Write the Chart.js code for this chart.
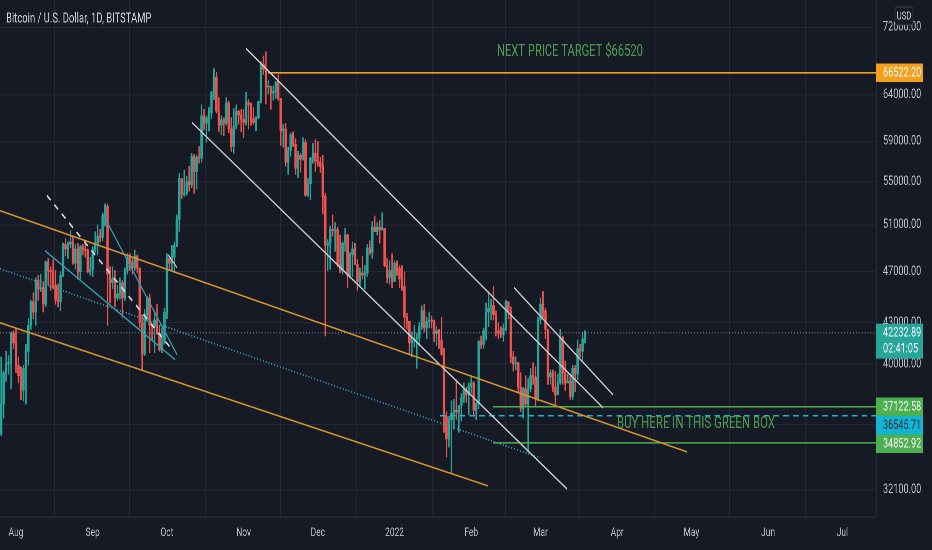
<!DOCTYPE html>
<html><head><meta charset="utf-8">
<script src="https://cdn.jsdelivr.net/npm/chart.js@4.4.1/dist/chart.umd.min.js"></script>
<style>
html,body{margin:0;padding:0;background:#161a25;overflow:hidden;width:932px;height:550px}
#wrap{position:absolute;left:0;top:0;width:1331px;height:550px;transform:scaleX(0.700225);transform-origin:0 0}
canvas{display:block}
</style></head><body>
<div id="wrap"><canvas id="c" width="1331" height="550"></canvas></div>
<script>
// ---------- DATA (BTC/USD daily, Bitstamp, prices in thousands of USD) ----------
// day index: days from 2021-08-01; first candle = 2021-07-25
const firstDay = -7;
const openK = [
34.3,35.4,37.3,39.4,40.0,40.1,42.2,41.5,39.9,39.2,
38.2,39.7,40.9,42.8,44.6,43.8,46.3,45.6,45.7,44.4,
47.8,47.1,47.0,45.9,44.7,44.6,46.7,49.3,48.9,49.3,
49.5,47.7,48.9,47.0,49.1,48.9,48.8,47.0,47.2,48.8,
49.3,50.0,49.9,51.8,52.7,46.8,46.1,46.4,44.9,45.2,
46.1,44.9,47.1,48.2,47.8,47.3,48.3,47.3,43.0,40.7,
43.6,44.9,42.8,42.7,43.2,42.2,41.0,41.5,43.8,48.1,
47.7,48.2,49.2,51.5,55.3,53.8,53.9,55.0,54.7,57.5,
56.0,57.4,57.3,61.7,60.9,61.5,62.0,64.3,66.0,62.2,
60.7,61.3,60.9,63.1,60.3,58.5,60.6,62.2,61.8,61.3,
61.0,63.2,62.9,61.4,61.0,61.5,63.3,67.5,66.9,64.9,
64.95,64.2,64.4,65.5,63.6,60.1,60.3,56.9,58.1,59.7,
58.7,56.3,57.6,57.2,58.9,53.7,54.8,57.3,57.8,57.0,
56.9,56.5,53.6,49.2,49.4,50.6,50.5,50.6,47.6,47.1,
49.4,50.1,46.7,48.4,48.9,47.6,46.2,46.9,46.7,46.9,
49.0,48.6,50.8,50.4,50.8,50.6,50.7,47.5,46.5,47.1,
46.2,47.7,47.3,46.4,45.8,43.4,43.1,41.5,41.7,41.8,
41.85,42.7,43.9,42.6,43.1,43.15,43.1,42.2,42.4,41.7,
40.7,36.5,35.1,36.3,36.7,36.9,36.8,37.2,37.7,38.2,
37.9,38.5,38.7,36.9,37.3,41.6,41.4,42.4,43.8,44.1,
44.3,43.6,42.4,42.2,42.1,42.6,44.6,43.9,40.5,40.0,
40.1,38.4,37.0,38.3,37.3,38.3,39.2,39.1,37.7,43.2,
44.4,43.9,42.5,39.1,39.4,38.4,37.9,38.7,41.9,39.4,
38.7,38.8,37.8,39.7,39.3,41.1,40.9,41.8];
const highK = [
35.4,40.5,39.5,40.9,40.6,42.3,42.4,42.6,40.5,39.8,
39.9,41.4,43.3,44.7,45.3,46.5,46.7,46.8,46.2,47.9,
48.1,47.4,48.0,47.1,46.0,47.0,49.4,49.8,49.5,50.5,
49.9,49.3,49.4,49.2,49.3,49.6,48.9,48.2,49.1,50.4,
51.0,50.6,51.9,52.9,52.9,47.4,47.4,47.1,45.9,46.5,
46.3,47.3,48.5,48.5,48.1,48.8,48.4,47.3,43.6,44.0,
45.0,45.2,42.9,43.9,44.4,42.8,42.6,44.1,48.5,48.3,
49.2,49.5,51.9,55.8,55.3,56.1,55.5,56.5,57.8,57.7,
57.6,58.5,62.9,62.4,61.7,62.6,64.4,67.0,66.6,63.7,
61.7,61.5,63.7,63.3,61.5,62.5,62.9,62.3,62.4,62.4,
64.3,63.5,63.1,62.6,61.6,63.3,67.8,68.5,69.0,65.6,
65.0,65.0,65.5,66.3,63.6,60.8,60.9,58.4,59.9,60.0,
59.3,58.0,57.8,59.4,59.2,55.3,57.4,58.8,59.2,59.0,
57.4,57.6,53.9,49.7,50.9,51.9,51.2,50.8,50.1,49.5,
50.7,50.2,48.6,49.5,49.4,48.0,47.3,48.3,47.5,49.3,
49.6,51.3,51.8,51.2,51.4,52.1,50.7,48.1,47.9,48.5,
47.9,47.9,47.5,47.5,47.0,43.7,43.1,42.3,42.8,42.2,
43.0,44.3,44.4,43.4,43.8,43.5,43.2,42.7,42.5,43.4,
41.1,36.8,36.5,37.5,37.6,38.9,37.2,38.0,38.7,38.4,
38.7,39.2,38.8,37.4,41.7,42.0,42.6,44.5,45.4,44.8,
45.8,43.9,43.0,42.7,42.9,44.7,44.6,44.2,40.9,40.5,
40.1,39.4,38.4,39.2,39.0,39.7,40.1,39.8,43.4,44.9,
45.4,44.1,42.5,39.6,39.6,39.5,39.3,42.5,42.0,40.2,
39.3,39.3,39.9,39.9,41.7,41.4,42.3,42.4];
const lowK = [
33.9,35.3,36.4,38.8,39.3,38.3,41.1,39.4,38.7,37.6,
37.5,37.3,39.9,42.5,43.3,42.8,44.7,45.4,43.8,44.2,
45.9,45.5,45.6,44.4,44.2,43.9,46.6,48.3,48.1,49.0,
47.6,47.2,46.4,46.4,48.4,48.2,46.9,46.7,46.6,48.6,
48.4,49.5,49.6,50.9,42.8,44.5,45.6,44.2,44.7,44.8,
43.4,44.7,46.8,47.1,46.8,47.1,46.9,42.6,39.6,40.6,
43.1,40.8,41.7,40.8,42.1,40.9,40.8,41.4,43.3,47.1,
47.1,46.9,49.1,50.4,53.4,53.6,53.7,54.1,54.4,53.9,
54.3,56.8,56.9,60.2,58.9,60.1,61.4,63.5,62.0,60.0,
59.7,59.6,60.7,59.9,58.0,57.8,60.3,60.8,60.0,59.4,
60.7,60.3,60.7,60.8,60.1,61.4,63.1,66.3,63.0,64.1,
62.4,63.4,63.6,63.4,58.6,58.4,56.5,55.7,57.5,58.5,
55.7,55.4,55.9,57.1,53.6,53.6,53.3,56.8,56.0,56.5,
55.9,52.0,42.0,47.1,47.2,50.0,48.7,47.4,46.9,46.8,
48.7,45.7,46.5,46.6,47.6,45.5,45.9,46.4,45.6,46.6,
48.4,48.1,50.4,50.1,49.4,50.5,47.4,46.1,46.0,45.7,
46.2,46.7,45.7,45.5,42.6,42.5,40.7,40.5,41.2,39.7,
41.3,42.5,42.3,41.8,42.6,42.6,41.6,41.3,41.1,40.6,
35.5,34.0,34.6,33.0,35.7,36.3,35.5,36.2,37.4,37.4,
36.6,38.0,36.6,36.3,37.0,41.1,41.1,41.7,42.7,43.2,
43.2,42.0,41.8,41.9,41.6,42.4,43.3,40.1,39.5,39.6,
38.0,36.8,36.4,37.1,34.3,38.1,38.6,37.1,37.5,42.9,
43.4,41.8,38.6,38.6,38.1,37.2,37.9,38.6,38.6,38.2,
38.7,37.6,37.6,38.1,38.9,40.5,40.2,41.5];
const closeK = [
35.4,37.3,39.4,40.0,40.1,42.2,41.5,39.9,39.2,38.2,
39.7,40.9,42.8,44.6,43.8,46.3,45.6,45.7,44.4,47.8,
47.1,47.0,45.9,44.7,44.6,46.7,49.3,48.9,49.3,49.5,
47.7,48.9,47.0,49.1,48.9,48.8,47.0,47.2,48.8,49.3,
50.0,49.9,51.8,52.7,46.8,46.1,46.4,44.9,45.2,46.1,
44.9,47.1,48.2,47.8,47.3,48.3,47.3,43.0,40.7,43.6,
44.9,42.8,42.7,43.2,42.2,41.0,41.5,43.8,48.1,47.7,
48.2,49.2,51.5,55.3,53.8,53.9,55.0,54.7,57.5,56.0,
57.4,57.3,61.7,60.9,61.5,62.0,64.3,66.0,62.2,60.7,
61.3,60.9,63.1,60.3,58.5,60.6,62.2,61.8,61.3,61.0,
63.2,62.9,61.4,61.0,61.5,63.3,67.5,66.9,64.9,64.95,
64.2,64.4,65.5,63.6,60.1,60.3,56.9,58.1,59.7,58.7,
56.3,57.6,57.2,58.9,53.7,54.8,57.3,57.8,57.0,56.9,
56.5,53.6,49.2,49.4,50.6,50.5,50.6,47.6,47.1,49.4,
50.1,46.7,48.4,48.9,47.6,46.2,46.9,46.7,46.9,49.0,
48.6,50.8,50.4,50.8,50.6,50.7,47.5,46.5,47.1,46.2,
47.7,47.3,46.4,45.8,43.4,43.1,41.5,41.7,41.8,41.85,
42.7,43.9,42.6,43.1,43.15,43.1,42.2,42.4,41.7,40.7,
36.5,35.1,36.3,36.7,36.9,36.8,37.2,37.7,38.2,37.9,
38.5,38.7,36.9,37.3,41.6,41.4,42.4,43.8,44.1,44.3,
43.6,42.4,42.2,42.1,42.6,44.6,43.9,40.5,40.0,40.1,
38.4,37.0,38.3,37.3,38.3,39.2,39.1,37.7,43.2,44.4,
43.9,42.5,39.1,39.4,38.4,37.9,38.7,41.9,39.4,38.7,
38.8,37.8,39.7,39.3,41.1,40.9,41.8,42.23289];

// time axis (days from 2021-08-01)
const monthTickDays   = [0,31,61,92,122,153,184,212,243,273,304,334];
const monthTickLabels = ['Aug','Sep','Oct','Nov','Dec','2022','Feb','Mar','Apr','May','Jun','Jul'];
// price axis
const priceTicks      = [72000,64000,59000,55000,51000,47000,43000,40000,36000,32100];
const priceTickLabels = ['72000.00','64000.00','59000.00','55000.00','51000.00','47000.00','43000.00','40000.00','','32100.00'];

// drawn trend lines (day, price)
const trendStartDay   = [-6.5, -6.5, 93.0, 201.3, 71.1, 12.5, 11.7, 34.8, -6.5, 61.4];
const trendStartPrice = [52290, 42990, 69400, 45710, 60990, 53680, 48750, 52110, 47250, 48410];
const trendEndDay     = [271.2, 190.8, 237.3, 241.3, 222.7, 63.1, 64.3, 65.1, 211.8, 65.1];
const trendEndPrice   = [34310, 32330, 37050, 37910, 32160, 41010, 40300, 40650, 33950, 47330];

// horizontal price levels
const levelPrices   = [66522.20, 42232.89, 37122.58, 36545.71, 34852.92];
const levelStartDay = [101.9, -6.5, 192.8, 171.4, 192.8];
const countdownText = '02:41:05';

// notes
const noteTexts  = ['NEXT PRICE TARGET $66520', 'BUY HERE IN THIS GREEN BOX'];
const noteDays   = [194.4, 242.9];
const notePrices = [69040, 36030];
const titleText  = 'Bitcoin / U.S. Dollar, 1D, BITSTAMP';

// ---------- STYLE ----------
const S = 932/1331;
const X_MIN = -6.47, X_MAX = 347.6, Y_MIN = 30620, Y_MAX = 75540;
const BG = '#161a25', GRID = '#252935', AXIS_TXT = '#bfc2c9';
const UP = '#26a69a', DN = '#ef5350';
const FONT = 'Roboto, "Liberation Sans", sans-serif';
const trendStyles = [
  {c:'#d9952b', w:1.6, d:[]},
  {c:'#d9952b', w:1.6, d:[]},
  {c:'#c9ccd3', w:1.6, d:[]},
  {c:'#c9ccd3', w:1.6, d:[]},
  {c:'#c9ccd3', w:1.6, d:[]},
  {c:'#d1d4dc', w:2, d:[7,7]},
  {c:'#2a9fb0', w:1.6, d:[]},
  {c:'#2a9fb0', w:1.6, d:[]},
  {c:'#2a9fb0', w:1.6, d:[1.6,2.6]},
  {c:'#c9ccd3', w:1.4, d:[]}
];
const levelStyles = [
  {c:'#f59f1f', w:1.6, d:[], bg:'#f59f1f', fg:'#ffffff'},
  {c:'rgba(180,183,190,0.75)', w:1, d:[1.4,2.8], bg:'#26a69a', fg:'#ffffff'},
  {c:'#4caf50', w:1.5, d:[], bg:'#4caf50', fg:'#ffffff'},
  {c:'#16b6d4', w:1.5, d:[8,6], bg:'#11b5d3', fg:'#13232d'},
  {c:'#4caf50', w:1.5, d:[], bg:'#4caf50', fg:'#ffffff'}
];
const noteStyle = {color:'#4a9d4f', size:17, widths:[146, 158]};

// ---------- DATASETS ----------
const isUp = closeK.map((c,i)=> c >= openK[i]);
const candleColors = isUp.map(u => u ? UP : DN);
const datasets = [];
datasets.push({
  type:'bar', label:'wick', order:3, grouped:false,
  data: highK.map((h,i)=>({x:firstDay+i, y:[lowK[i]*1000, h*1000]})),
  backgroundColor: candleColors, borderWidth:0, barThickness:1.4
});
datasets.push({
  type:'bar', label:'body', order:2, grouped:false,
  data: openK.map((o,i)=>({x:firstDay+i, y:[o*1000, closeK[i]*1000]})),
  backgroundColor: candleColors, borderWidth:0, barThickness:2.8, minBarLength:1
});
trendStartDay.forEach((d,i)=>{
  const st = trendStyles[i];
  datasets.push({type:'line', order:0, data:[{x:d,y:trendStartPrice[i]},{x:trendEndDay[i],y:trendEndPrice[i]}],
    borderColor:st.c, borderWidth:st.w, borderDash:st.d, pointRadius:0, fill:false, tension:0});
});
levelPrices.forEach((p,i)=>{
  const st = levelStyles[i];
  datasets.push({type:'line', order:1, data:[{x:levelStartDay[i],y:p},{x:X_MAX,y:p}],
    borderColor:st.c, borderWidth:st.w, borderDash:st.d, pointRadius:0, fill:false, tension:0});
});

// ---------- OVERLAY PLUGIN ----------
const overlay = {
  id:'overlay',
  beforeDraw(chart){
    const ctx = chart.ctx;
    ctx.save(); ctx.fillStyle = BG; ctx.fillRect(0,0,chart.width,chart.height); ctx.restore();
  },
  afterDraw(chart){
    const {ctx, scales:{x, y}, chartArea} = chart;
    ctx.save();
    // title
    ctx.font = '13.5px ' + FONT; ctx.fillStyle = '#d1d4dc'; ctx.textBaseline = 'middle'; ctx.textAlign = 'left';
    ctx.fillText(titleText, 6/S, 19);
    // notes
    ctx.font = noteStyle.size + 'px ' + FONT; ctx.fillStyle = noteStyle.color;
    noteTexts.forEach((t,i)=>{
      const px = x.getPixelForValue(noteDays[i]), py = y.getPixelForValue(notePrices[i]);
      const w = ctx.measureText(t).width, target = noteStyle.widths[i]/S;
      ctx.save(); ctx.translate(px, py); ctx.scale(target/w, 1); ctx.fillText(t, 0, 0); ctx.restore();
    });
    // price labels on axis
    const items = levelPrices.map((p,i)=>({p, i, py:y.getPixelForValue(p)})).sort((a,b)=>a.py-b.py);
    let prevBottom = -1e9;
    const bx = chartArea.right, bw = 67;
    ctx.font = '13px ' + FONT;
    items.forEach(it=>{
      const st = levelStyles[it.i];
      const lines = [levelPrices[it.i].toFixed(2)];
      if (it.i === 1) lines.push(countdownText);
      const h = lines.length === 1 ? 18.5 : 35;
      let top = Math.max(it.py - 9.25, prevBottom);
      ctx.fillStyle = st.bg; ctx.fillRect(bx, top, bw, h);
      ctx.fillStyle = st.fg; ctx.textAlign = 'left'; ctx.textBaseline = 'middle';
      lines.forEach((l,k)=> ctx.fillText(l, bx + 10, top + 9.6 + k*16));
      prevBottom = top + h;
    });
    // USD box
    const ux = 895/S, uw = 18/S;
    ctx.fillStyle = BG; ctx.strokeStyle = '#434651'; ctx.lineWidth = 1;
    ctx.beginPath();
    if (ctx.roundRect) ctx.roundRect(ux, 7, uw, 18, 3); else ctx.rect(ux, 7, uw, 18);
    ctx.fill(); ctx.stroke();
    ctx.font = '11px ' + FONT; ctx.fillStyle = '#d1d4dc'; ctx.textAlign = 'center';
    ctx.fillText('USD', ux + uw/2, 16.5);
    ctx.restore();
  }
};

new Chart(document.getElementById('c'), {
  type:'bar',
  data:{datasets},
  plugins:[overlay],
  options:{
    responsive:false, animation:false, devicePixelRatio:2, events:[],
    layout:{padding:0},
    plugins:{legend:{display:false}, tooltip:{enabled:false}},
    scales:{
      x:{type:'linear', min:X_MIN, max:X_MAX, offset:false, bounds:'data',
        afterBuildTicks:s=>{ s.ticks = monthTickDays.map(v=>({value:v})); },
        afterFit:s=>{ s.height = 33; s.paddingLeft = 0; s.paddingRight = 0; },
        ticks:{autoSkip:false, maxRotation:0, minRotation:0, padding:9, color:AXIS_TXT, font:{family:FONT, size:12},
          callback:(v)=>{ const i = monthTickDays.indexOf(v); return i>=0 ? monthTickLabels[i] : ''; }},
        grid:{color:GRID, lineWidth:1.4, drawTicks:false}, border:{display:true, color:'#2a2e39', width:1.4}
      },
      y:{type:'logarithmic', position:'right', min:Y_MIN, max:Y_MAX, bounds:'data',
        afterBuildTicks:s=>{ s.ticks = priceTicks.map(v=>({value:v})); },
        afterFit:s=>{ s.width = 80; s.paddingTop = 0; s.paddingBottom = 0; },
        ticks:{autoSkip:false, padding:10, color:AXIS_TXT, font:{family:FONT, size:13},
          callback:(v)=>{ const i = priceTicks.indexOf(v); return i>=0 ? priceTickLabels[i] : ''; }},
        grid:{color:GRID, lineWidth:1, drawTicks:false}, border:{display:true, color:'#2a2e39', width:1.4}
      }
    }
  }
});
</script></body></html>
